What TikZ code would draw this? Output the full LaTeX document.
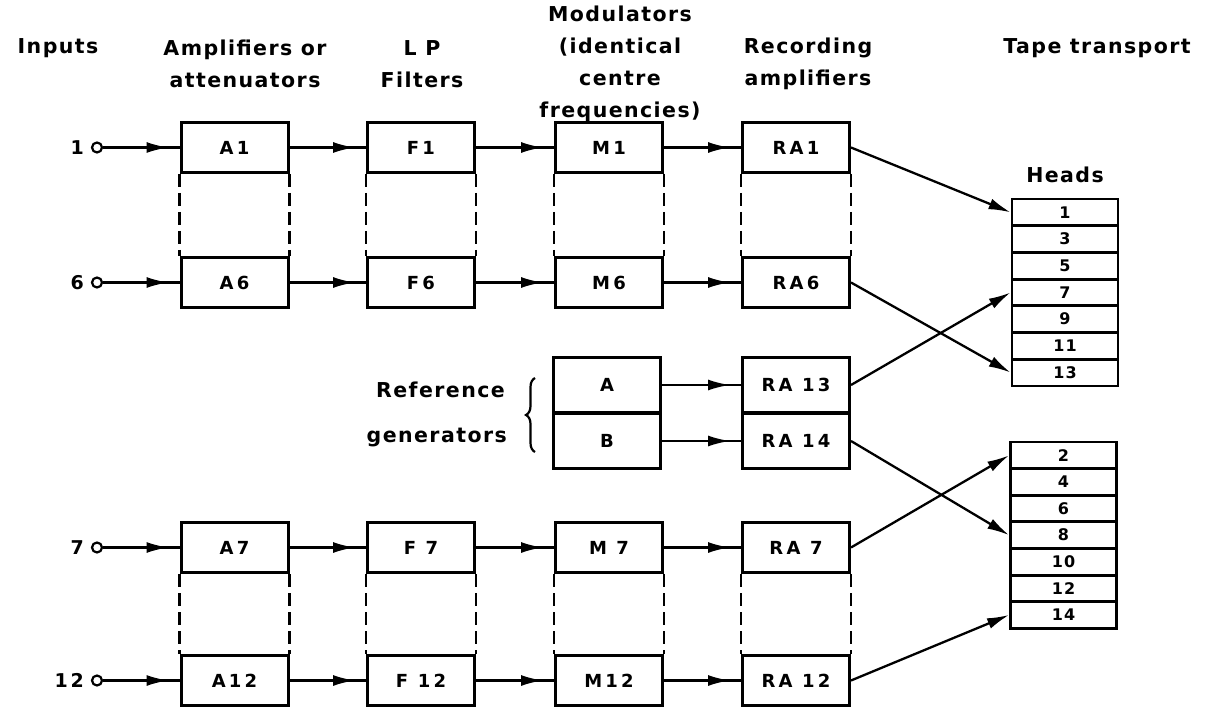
\documentclass[tikz,border=0pt]{standalone}
\usepackage{fontspec}
\setmainfont{DejaVu Sans}[LetterSpace=7]
\usetikzlibrary{arrows.meta,decorations.markings,decorations.pathreplacing}
\begin{document}
\begin{tikzpicture}[x=1pt,y=-1pt,
  blk/.style={draw, line width=3pt, minimum width=107pt, minimum height=50pt, inner sep=0pt, font=\bfseries\fontsize{18}{20}\selectfont\addfontfeature{LetterSpace=18}},
  refblk/.style={blk, minimum height=55pt},
  head/.style={draw, line width=2.8pt, minimum width=106pt, minimum height=26.7pt, inner sep=0pt, font=\bfseries\fontsize{16}{16}\selectfont},
  hdr/.style={align=center, font=\bfseries\fontsize{20.5}{32}\selectfont, inner sep=0pt},
  inp/.style={circle, draw, line width=2.2pt, minimum size=10pt, inner sep=0pt},
  inlbl/.style={anchor=east, font=\bfseries\fontsize{19}{20}\selectfont\addfontfeature{LetterSpace=15}, inner sep=0pt},
  conn/.style={line width=2.3pt, postaction={decorate},
    decoration={markings, mark=at position -11pt with {\arrow{Latex[length=22pt,width=11pt]}}}},
  hconn/.style={line width=2.3pt, -{Latex[length=22pt,width=11pt]}},
  dline/.style={line width=2.4pt, dash pattern=on 13pt off 6pt}
]
\useasboundingbox (0,0) rectangle (1212,711);
% headers
\node[hdr] (hIn) at (58,48) {Inputs};
\node[hdr] (hAmp) at (245,64) {Amplifiers or\\attenuators};
\node[hdr] (hLP) at (422,64) {L P\\Filters};
\node[hdr] (hMod) at (620,64) {Modulators\\(identical\\centre\\frequencies)};
\node[hdr] (hRec) at (808,64) {Recording\\amplifiers};
\node[hdr] (hTape) at (1097,48) {Tape transport};
\node[hdr] (hHeads) at (1065,175) {Heads};
% rows
\foreach \r/\y/\a/\f/\m/\ra in {1/147.5/A1/F1/M1/RA1, 6/282.5/A6/F6/M6/RA6, 7/547.5/A7/F 7/M 7/RA 7, 12/680.5/A12/F 12/M12/RA 12}{
  \node[inp] (i\r) at (97,\y) {};
  \node[inlbl] (l\r) at (84,\y) {\r};
  \node[blk] (A\r) at (234.5,\y) {\a};
  \node[blk] (F\r) at (421,\y) {\f};
  \node[blk] (M\r) at (609,\y) {\m};
  \node[blk] (RA\r) at (796,\y) {\ra};
  \draw[conn] (i\r.east) -- (A\r.west);
  \draw[conn] (A\r.east) -- (F\r.west);
  \draw[conn] (F\r.east) -- (M\r.west);
  \draw[conn] (M\r.east) -- (RA\r.west);
}
% dashed links
\foreach \c in {A,F,M,RA}{
  \draw[dline] (\c1.south west) -- (\c6.north west);
  \draw[dline] (\c1.south east) -- (\c6.north east);
  \draw[dline] (\c7.south west) -- (\c12.north west);
  \draw[dline] (\c7.south east) -- (\c12.north east);
}
% reference generators
\node[refblk] (GA) at (607,385) {A};
\node[refblk] (GB) at (607,441) {B};
\node[refblk] (RA13) at (796,385) {RA 13};
\node[refblk] (RA14) at (796,441) {RA 14};
\draw[conn] (GA.east) -- (RA13.west);
\draw[conn] (GB.east) -- (RA14.west);
\node[hdr, anchor=east] (hRef) at (505,390) {Reference};
\node[hdr, anchor=east] (hGen) at (507,438) {generators};
\draw[line width=2.2pt, decorate, decoration={brace, amplitude=9pt}] (535,452) -- (535,378);
% heads
\foreach \n [count=\k from 0] in {1,3,5,7,9,11,13}{
  \node[head] (h\n) at (1065,212.35+26.7*\k) {\n};
}
\foreach \n [count=\k from 0] in {2,4,6,8,10,12,14}{
  \node[head] (h\n) at (1063.5,455.35+26.6*\k) {\n};
}
\draw[hconn] (RA1.east) -- (h1.west);
\draw[hconn] (RA6.east) -- (h13.west);
\draw[hconn] (RA13.east) -- (h7.west);
\draw[hconn] (RA14.east) -- (h8.west);
\draw[hconn] (RA7.east) -- (h2.west);
\draw[hconn] (RA12.east) -- (h14.west);
\end{tikzpicture}
\end{document}
